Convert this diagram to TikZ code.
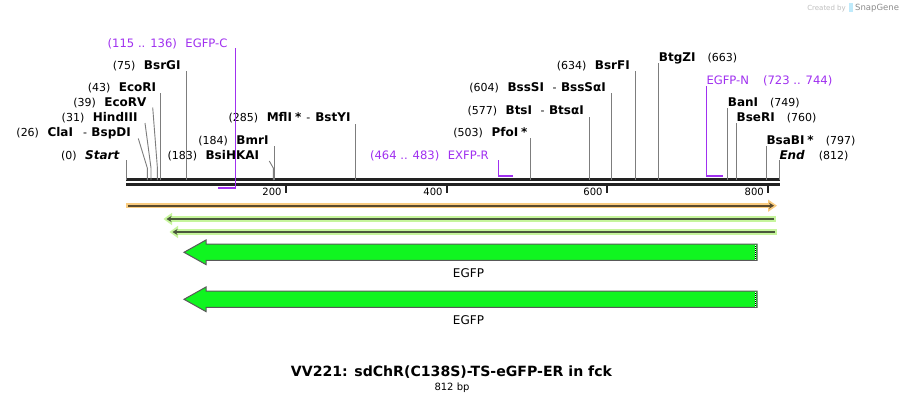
\documentclass[tikz,border=0pt]{standalone}
\usepackage{fontspec}
\setmainfont{DejaVu Sans}
\usetikzlibrary{arrows.meta}
\definecolor{featpurple}{RGB}{160,48,240}
\definecolor{cutgray}{RGB}{125,125,125}
\definecolor{rulerblack}{RGB}{34,34,34}
\definecolor{bandorange}{RGB}{250,204,128}
\definecolor{bandgreen}{RGB}{198,245,156}
\definecolor{darkorange}{RGB}{90,74,45}
\definecolor{darkgreen}{RGB}{74,88,60}
\definecolor{egfpgreen}{RGB}{16,245,32}
\newcommand{\lgap}{\hspace{8.5pt}}
\newcommand{\rgap}{\hspace{12pt}}
\newcommand{\enz}[1]{{\fontsize{12}{14}\selectfont\bfseries #1}}
\tikzset{
  ruler/.style={rulerblack, line width=2.7pt},
  rtick/.style={rulerblack, line width=2pt},
  cut/.style={cutgray, line width=0.9pt},
  feat/.style={featpurple, line width=1pt},
  featbar/.style={featpurple, line width=2pt},
  sitelbl/.style={font=\fontsize{11}{13}\selectfont, inner sep=0pt},
  featlbl/.style={font=\fontsize{11.6}{13}\selectfont, inner sep=0pt, text=featpurple},
  numlbl/.style={font=\fontsize{10}{12}\selectfont, inner sep=0pt},
  egfp/.style={fill=egfpgreen, draw=black!65, line width=1pt},
}
\begin{document}
\begin{tikzpicture}[x=1pt,y=-1pt]
\useasboundingbox[fill=white] (0,0) rectangle (906,402);

% watermark
\node[font=\fontsize{7}{8}\selectfont, text=black!25, inner sep=0pt, anchor=base east] (made) at (846,10) {Created by};
\fill[cyan!25] (849,2.5) rectangle (853,12);
\node[font=\fontsize{8.5}{9}\selectfont, text=black!45, inner sep=0pt, anchor=base west] (snap) at (855,10) {SnapGene};

% sequence line
\draw[ruler] (126,179.7) -- (779.5,179.7);
\draw[ruler] (126,184.2) -- (779.5,184.2);
\draw[rtick] (285.8,184) -- (285.8,192.7);
\draw[rtick] (447.3,184) -- (447.3,192.7);
\draw[rtick] (607,184) -- (607,192.7);
\draw[rtick] (767.8,184) -- (767.8,192.7);
\node[numlbl, anchor=base east] (n200) at (281.7,195.7) {200};
\node[numlbl, anchor=base east] (n400) at (442.7,195.7) {400};
\node[numlbl, anchor=base east] (n600) at (602.7,195.7) {600};
\node[numlbl, anchor=base east] (n800) at (764,195.7) {800};

% sites, left side
\draw[cut] (126,180) -- (126,160);
\node[sitelbl, anchor=base east] (start) at (119.5,159) {(0)\lgap\enz{\itshape Start}};
\draw[cut] (147.3,180) -- (147.3,168) -- (138.3,138.5);
\node[sitelbl, anchor=base east] (clai) at (131,136) {(26)\lgap\enz{ClaI}\hspace{10pt}-\hspace{4.5pt}\enz{BspDI}};
\draw[cut] (151,180) -- (151,168) -- (145,123);
\node[sitelbl, anchor=base east] (hind) at (137.7,121) {(31)\lgap\enz{HindIII}};
\draw[cut] (157.4,180) -- (157.4,168) -- (152.7,107.5);
\node[sitelbl, anchor=base east] (ecorv) at (146.7,106) {(39)\lgap\enz{EcoRV}};
\draw[cut] (160.8,180) -- (160.8,92.5);
\node[sitelbl, anchor=base east] (ecori) at (156.3,91) {(43)\lgap\enz{EcoRI}};
\draw[cut] (186.3,180) -- (186.3,71);
\node[sitelbl, anchor=base east] (bsrgi) at (180.7,69) {(75)\lgap\enz{BsrGI}};
\draw[cut] (273.3,180) -- (273.3,168) -- (269.3,161);
\node[sitelbl, anchor=base east] (bsihkai) at (259.3,159) {(183)\lgap\enz{BsiHKAI}};
\draw[cut] (274.3,180) -- (274.3,146);
\node[sitelbl, anchor=base east] (bmri) at (268.7,144) {(184)\lgap\enz{BmrI}};
\draw[cut] (355.3,180) -- (355.3,124);
\node[sitelbl, anchor=base east] (mfli) at (350.7,121.5) {(285)\lgap\enz{MflI\hspace{3pt}*}\hspace{5pt}-\hspace{5pt}\enz{BstYI}};
\draw[cut] (530.3,180) -- (530.3,138);
\node[sitelbl, anchor=base east] (pfoi) at (527.7,136) {(503)\lgap\enz{PfoI\hspace{3pt}*}};
\draw[cut] (589.3,180) -- (589.3,117);
\node[sitelbl, anchor=base east] (btsi) at (584,114.5) {(577)\lgap\enz{BtsI}\hspace{8.5pt}-\hspace{4.5pt}\enz{BtsαI}};
\draw[cut] (611.7,180) -- (611.7,93);
\node[sitelbl, anchor=base east] (bsssi) at (606,91) {(604)\lgap\enz{BssSI}\hspace{8.5pt}-\hspace{4.5pt}\enz{BssSαI}};
\draw[cut] (635.3,180) -- (635.3,71);
\node[sitelbl, anchor=base east] (bsrfi) at (630,69) {(634)\lgap\enz{BsrFI}};

% sites, right side
\draw[cut] (658.7,180) -- (658.7,62.5);
\node[sitelbl, anchor=base west] (btgzi) at (658.7,61) {\enz{BtgZI}\rgap(663)};
\draw[cut] (727.7,180) -- (727.7,107.5);
\node[sitelbl, anchor=base west] (bani) at (727.7,106) {\enz{BanI}\rgap(749)};
\draw[cut] (736.5,180) -- (736.5,123);
\node[sitelbl, anchor=base west] (bseri) at (736.5,121) {\enz{BseRI}\rgap(760)};
\draw[cut] (766.3,180) -- (766.3,145.5);
\node[sitelbl, anchor=base west] (bsabi) at (766.3,144) {\enz{BsaBI\hspace{3pt}*}\rgap(797)};
\draw[cut] (779.3,180) -- (779.3,160);
\node[sitelbl, anchor=base west] (end) at (779.3,159) {\enz{\itshape End}\hspace{14pt}(812)};

% primer features
\draw[featbar] (218.3,188) -- (235.3,188);
\draw[feat] (235.3,189) -- (235.3,48);
\node[featlbl, anchor=base east] (egfpc) at (227.7,47) {(115 .. 136)\lgap EGFP-C};
\draw[featbar] (512.7,175.7) -- (498.7,175.7);
\draw[feat] (498.7,176.7) -- (498.7,160);
\node[featlbl, anchor=base east] (exfpr) at (489,159) {(464 .. 483)\lgap EXFP-R};
\draw[featbar] (722.7,175.7) -- (706.3,175.7);
\draw[feat] (706.3,176.7) -- (706.3,86);
\node[featlbl, anchor=base west] (egfpn) at (706.3,84) {EGFP-N\hspace{14pt}(723 .. 744)};

% primer bars
\draw[bandorange, line width=5.4pt] (126,205.7) -- (770,205.7);
\fill[bandorange] (768,199.5) -- (777,205.7) -- (768,211.9) -- cycle;
\draw[darkorange, line width=1.8pt, -{Stealth[length=5pt,width=6pt]}] (128,205.7) -- (774,205.7);

\draw[bandgreen, line width=5.4pt] (171,219) -- (776,219);
\fill[bandgreen] (172,212.8) -- (163.5,219) -- (172,225.2) -- cycle;
\draw[darkgreen, line width=1.8pt, -{Stealth[length=5pt,width=6pt]}] (774,219) -- (166.5,219);

\draw[bandgreen, line width=5.4pt] (177,232) -- (777,232);
\fill[bandgreen] (178,225.8) -- (169.5,232) -- (178,238.2) -- cycle;
\draw[darkgreen, line width=1.8pt, -{Stealth[length=5pt,width=6pt]}] (775,232) -- (172.5,232);

% EGFP features
\draw[egfp] (184,252.3) -- (206,240) -- (206,244.2) -- (757,244.2) -- (757,260.4) -- (206,260.4) -- (206,264.6) -- cycle;
\draw[black, line width=1pt] (755.6,245) -- (755.6,259.6);
\draw[white, line width=1pt, dash pattern=on 1pt off 1pt] (755.6,245) -- (755.6,259.6);
\node[font=\fontsize{12}{14}\selectfont, inner sep=0pt, anchor=base] (egfp1) at (468.5,277.5) {EGFP};

\draw[egfp] (184,299.3) -- (206,287) -- (206,291.2) -- (757,291.2) -- (757,307.4) -- (206,307.4) -- (206,311.6) -- cycle;
\draw[black, line width=1pt] (755.6,292) -- (755.6,306.6);
\draw[white, line width=1pt, dash pattern=on 1pt off 1pt] (755.6,292) -- (755.6,306.6);
\node[font=\fontsize{12}{14}\selectfont, inner sep=0pt, anchor=base] (egfp2) at (468.5,324.5) {EGFP};

% title
\node[font=\fontsize{14.1}{16}\selectfont\bfseries, inner sep=0pt, anchor=base] (title) at (451.5,376) {VV221: sdChR(C138S)-TS-eGFP-ER in fck};
\node[numlbl, anchor=base] (bp) at (452,390) {812 bp};
\end{tikzpicture}
\end{document}
